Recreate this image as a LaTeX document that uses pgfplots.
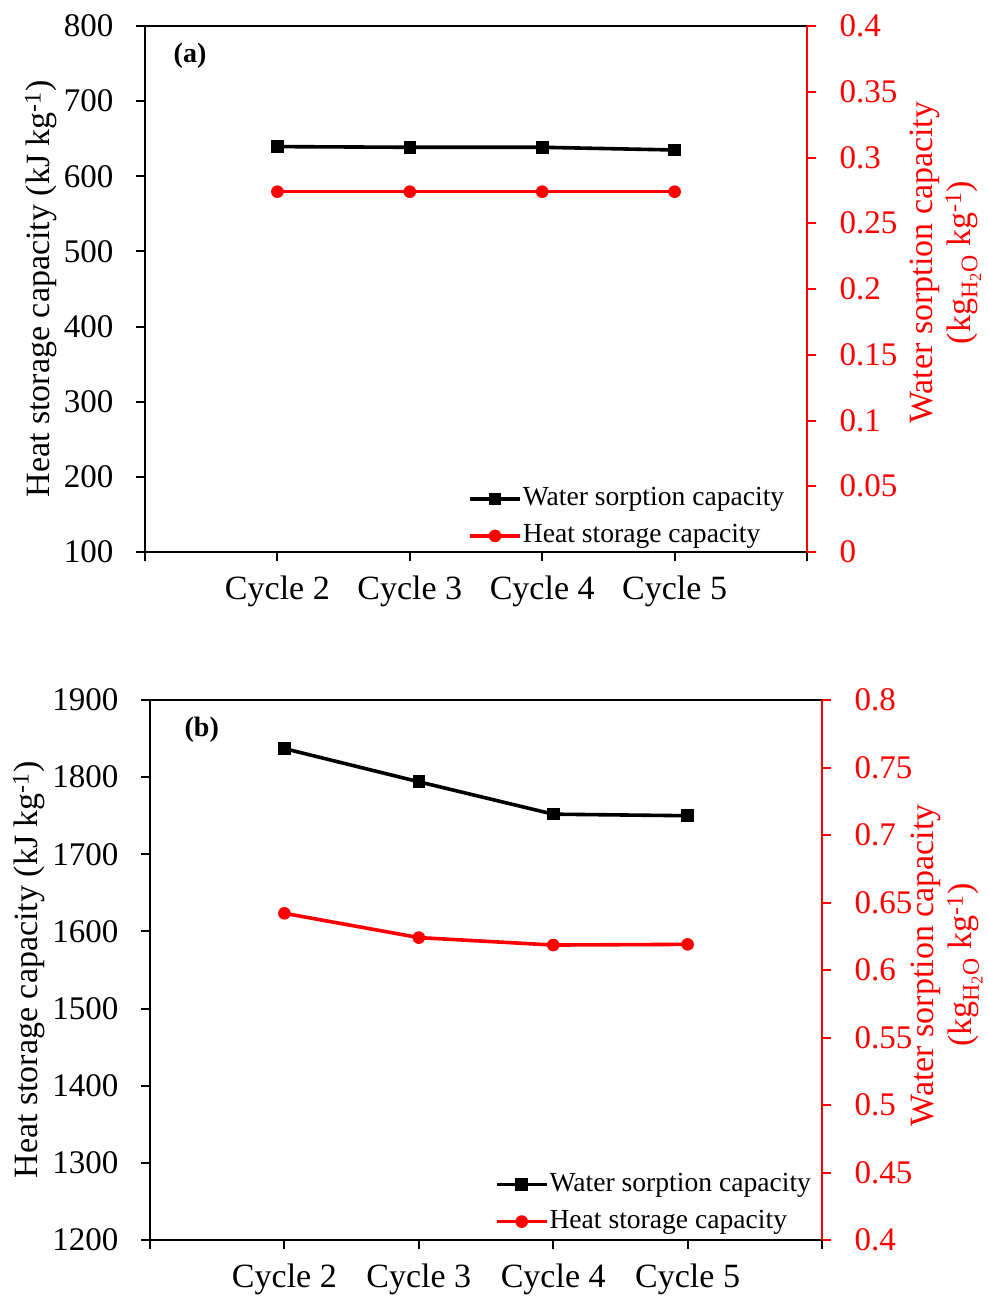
\documentclass[border=0pt]{standalone}
\usepackage{fontspec}
\setmainfont{Liberation Serif}
\usepackage{pgfplots}
\usepackage{pgfplotstable}
\pgfplotsset{compat=1.18}

% cycle, value on the kJ/kg axis (black), value on the kg/kg axis (red)
\pgfplotstableread{
cycle kJ    kgkg
2     639.5 0.274
3     638.6 0.274
4     638.6 0.274
5     635.0 0.274
}\panelA

\pgfplotstableread{
cycle kJ    kgkg
2     1837  0.642
3     1794  0.624
4     1752  0.6185
5     1750  0.619
}\panelB

\definecolor{axred}{RGB}{255,0,0}

\pgfplotsset{
  base/.style={
    scale only axis,
    xmin=1, xmax=6,
    xtick={1,2,3,4,5,6},
    tick align=outside,
    major tick length=9pt,
    every tick/.style={line width=2pt},
    axis line style={line width=2.3pt},
    /pgf/number format/assume math mode=true,
    /pgf/number format/1000 sep={},
    yticklabel style={font=\fontsize{33}{40}\selectfont},
    xticklabel style={font=\fontsize{34}{40}\selectfont, yshift=-11pt},
    label style={font=\fontsize{34}{41}\selectfont},
    clip=false,
  },
  leftaxis/.style={
    base,
    xtick pos=lower, ytick pos=left,
    yticklabel style={xshift=-19pt},
    xticklabels={,Cycle 2,Cycle 3,Cycle 4,Cycle 5,},
    ylabel={Heat storage capacity (kJ kg\textsuperscript{-1})},
  },
  rightaxis/.style={
    base,
    axis x line=none,
    axis y line*=right,
    y axis line style={axred},
    ytick style={axred},
    yticklabel style={text=axred, xshift=20pt},
    ylabel style={text=axred, align=center, font=\fontsize{34}{38}\selectfont},
    ylabel={Water sorption capacity\\(kg\textsubscript{H\textsubscript{2}O} kg\textsuperscript{-1})},
    /pgf/number format/fixed,
    /pgf/number format/precision=2,
    legend style={draw=none, fill=none, inner sep=0pt,
      font=\fontsize{27.6}{32}\selectfont,
      nodes={inner sep=1pt, text height=19pt, text depth=6pt},
      row sep=10pt},
    legend cell align=left,
    legend image code/.code={%
      \draw[mark repeat=2,mark phase=2] plot coordinates {(0pt,0pt)(25pt,0pt)(50pt,0pt)};},
  },
  blackline/.style={black, line width=3.6pt, mark=square*, mark size=5.8pt, mark options={line width=1pt}},
  redline/.style={axred, line width=3.6pt, mark=*, mark size=5.8pt, mark options={line width=1pt}},
}

\begin{document}
\begin{tikzpicture}
\useasboundingbox (0pt,0pt) rectangle (987pt,-1297pt);

% ---------------- panel (a) ----------------
\begin{axis}[leftaxis,
  at={(145pt,-552pt)}, anchor=south west,
  width=662pt, height=526pt,
  ymin=100, ymax=800, ytick={100,200,...,800},
  ylabel style={at={(axis description cs:-0.157,0.5)}, anchor=center},
]
\addplot[blackline] table[x=cycle, y=kJ] {\panelA};
\node[font=\bfseries\fontsize{28}{34}\selectfont] at (axis description cs:0.068,0.944) {(a)};
\end{axis}

\begin{axis}[rightaxis,
  at={(145pt,-552pt)}, anchor=south west,
  width=662pt, height=526pt,
  ymin=0, ymax=0.4, ytick={0,0.05,0.1,0.15,0.2,0.25,0.3,0.35,0.4},
  ylabel style={at={(axis description cs:1.209,0.55)}, anchor=center},
  legend style={at={(axis description cs:0.488,0.127)}, anchor=north west},
]
\addlegendimage{blackline}
\addlegendentry{Water sorption capacity}
\addplot[redline] table[x=cycle, y=kgkg] {\panelA};
\addlegendentry{Heat storage capacity}
\end{axis}

% ---------------- panel (b) ----------------
\begin{axis}[leftaxis,
  at={(150pt,-1240pt)}, anchor=south west,
  width=672pt, height=540pt,
  ymin=1200, ymax=1900, ytick={1200,1300,...,1900},
  ylabel style={at={(axis description cs:-0.18,0.5)}, anchor=center},
]
\addplot[blackline] table[x=cycle, y=kJ] {\panelB};
\node[font=\bfseries\fontsize{28}{34}\selectfont] at (axis description cs:0.077,0.944) {(b)};
\end{axis}

\begin{axis}[rightaxis,
  at={(150pt,-1240pt)}, anchor=south west,
  width=672pt, height=540pt,
  ymin=0.4, ymax=0.8, ytick={0.4,0.45,0.5,0.55,0.6,0.65,0.7,0.75,0.8},
  ylabel style={at={(axis description cs:1.186,0.509)}, anchor=center},
  legend style={at={(axis description cs:0.513,0.128)}, anchor=north west},
]
\addlegendimage{blackline}
\addlegendentry{Water sorption capacity}
\addplot[redline] table[x=cycle, y=kgkg] {\panelB};
\addlegendentry{Heat storage capacity}
\end{axis}
\end{tikzpicture}
\end{document}
